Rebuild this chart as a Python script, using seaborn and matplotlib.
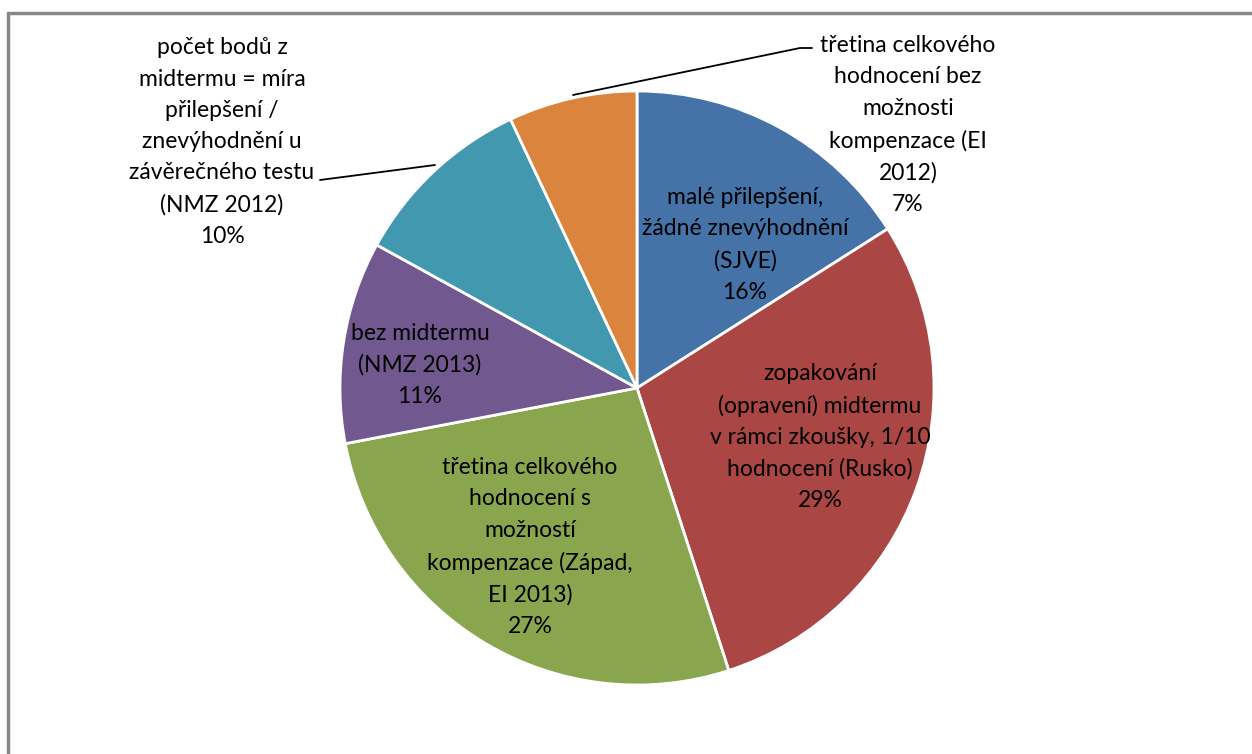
#!/usr/bin/env python3
"""Pie chart: ways of counting the midterm into the final grade."""
import matplotlib
matplotlib.use("Agg")
import matplotlib.pyplot as plt
from matplotlib.lines import Line2D
import seaborn as sns

# data
labels = [
    "malé přilepšení,\nžádné znevýhodnění\n(SJVE)",
    "zopakování\n(opravení) midtermu\nv rámci zkoušky, 1/10\nhodnocení (Rusko)",
    "třetina celkového\nhodnocení s\nmožností\nkompenzace (Západ,\nEI 2013)",
    "bez midtermu\n(NMZ 2013)",
    "počet bodů z\nmidtermu = míra\npřilepšení /\nznevýhodnění u\nzávěrečného testu\n(NMZ 2012)",
    "třetina celkového\nhodnocení bez\nmožnosti\nkompenzace (EI\n2012)",
]
shares = [16, 29, 27, 11, 10, 7]
colors = ["#4572A7", "#AA4643", "#89A54E", "#71588F", "#4198AF", "#DB843D"]

W, H = 1252, 754
sns.set_theme(style="white")
plt.rcParams["font.family"] = ["Lato", "DejaVu Sans"]

fig = plt.figure(figsize=(W / 100, H / 100), dpi=100)
ax = fig.add_axes([0, 0, 1, 1])
ax.set_aspect("equal")
ax.axis("off")

cx, cy, r = 637, H - 388, 297
wedges, _ = ax.pie(shares, colors=sns.color_palette(colors), startangle=90,
                   counterclock=False, center=(cx, cy), radius=r,
                   wedgeprops=dict(edgecolor="white", linewidth=2))
ax.set_xlim(0, W)
ax.set_ylim(0, H)

# label block centres (pixels from top-left)
label_pos = [(745, 245), (820, 437), (530, 547), (420, 365), (222, 142), (908, 125)]
for lab, val, (x, y) in zip(labels, shares, label_pos):
    ax.text(x, H - y, f"{lab}\n{val}%", ha="center", va="center", fontsize=16.5,
            color="black", linespacing=1.6)

# leader lines for outside labels
ax.add_line(Line2D([320, 435], [H - 180, H - 165], color="black", lw=1.3))
ax.add_line(Line2D([573, 800, 812], [H - 95, H - 48, H - 48], color="black", lw=1.3))

# chart frame (top and left edges visible)
fig.add_artist(Line2D([8 / W, 1], [1 - 13 / H, 1 - 13 / H], color="#888888", lw=2.5,
                      transform=fig.transFigure))
fig.add_artist(Line2D([8 / W, 8 / W], [0, 1 - 13 / H], color="#888888", lw=2.5,
                      transform=fig.transFigure))

fig.savefig("out.png", dpi=100)
